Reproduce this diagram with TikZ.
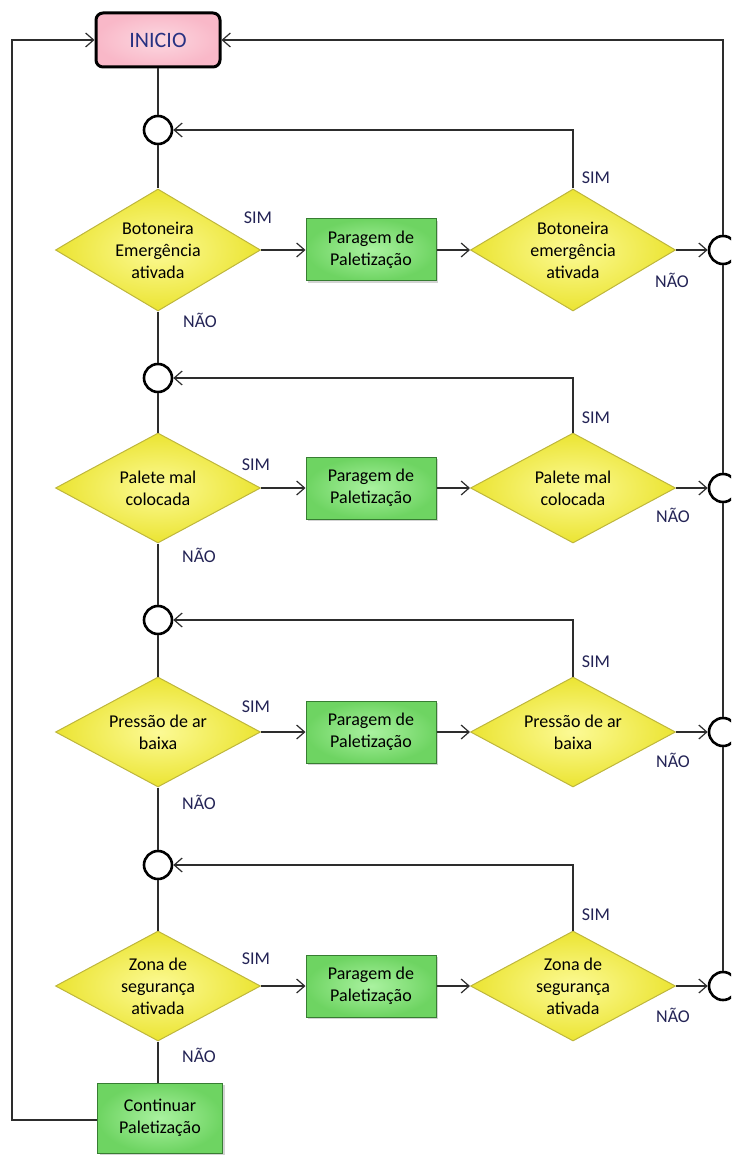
\documentclass[tikz,border=0pt]{standalone}
\usepackage{fontspec}
\setmainfont{Carlito}
\usetikzlibrary{arrows.meta,shapes.geometric,shadows}

\definecolor{wire}{RGB}{45,45,45}
\definecolor{lbltext}{RGB}{35,35,85}
\definecolor{starttext}{RGB}{40,50,130}
\definecolor{decin}{RGB}{252,250,150}
\definecolor{decout}{RGB}{235,228,50}
\definecolor{decedge}{RGB}{190,182,60}
\definecolor{actin}{RGB}{170,242,160}
\definecolor{actout}{RGB}{110,212,98}
\definecolor{actedge}{RGB}{55,125,50}
\definecolor{startfill}{RGB}{249,184,200}

\tikzset{
  flow/.style={draw=wire, line width=1.3pt},
  arr/.style={flow, -{Straight Barb[length=8pt,width=14pt,line width=1.2pt]}},
  decision/.style={diamond, shape aspect=1.9, draw=decedge, line width=1pt,
    shading=radial, inner color=decin, outer color=decout,
    minimum width=205pt, minimum height=110pt, inner sep=0pt, align=center,
    font=\fontsize{18}{22}\selectfont, text=black},
  action/.style={rectangle, draw=actedge, line width=1pt,
    shading=radial, inner color=actin, outer color=actout,
    drop shadow={opacity=0.35, shadow xshift=2pt, shadow yshift=-2pt},
    minimum width=130pt, minimum height=62pt, inner sep=0pt, align=center,
    font=\fontsize{18}{22}\selectfont, text=black},
  junction/.style={circle, draw=black, fill=white, line width=2.6pt,
    minimum size=28pt, inner sep=0pt},
  answer/.style={font=\fontsize{18}{20}\selectfont, text=lbltext, inner sep=0pt},
}

\begin{document}
\begin{tikzpicture}[x=1pt, y=-1pt]
\useasboundingbox (0,0) rectangle (731,1155);
\clip (0,0) rectangle (731,1155);

% start block
\node[rectangle, rounded corners=7pt, draw=black, line width=3pt,
  shading=radial, inner color=startfill!55!white, outer color=startfill,
  minimum width=124pt, minimum height=54pt, inner sep=0pt,
  font=\fontsize{22}{24}\selectfont, text=starttext] (inicio) at (158,40) {INICIO};

% final action
\node[action, minimum width=125pt, minimum height=70pt] (cont) at (160,1118) {Continuar\\Paletização};

% row 1
\node[junction] (c1) at (158,130) {};
\node[decision, minimum height=122pt] (d1) at (158,250) {Botoneira\\Emergência\\ativada};
\node[action] (p1) at (371,250) {Paragem de\\Paletização};
\node[decision, minimum height=122pt] (r1) at (573,250) {Botoneira\\emergência\\ativada};
\node[junction] (k1) at (723,250) {};

% row 2
\node[junction] (c2) at (158,378) {};
\node[decision] (d2) at (158,488) {Palete mal\\colocada};
\node[action] (p2) at (371,488) {Paragem de\\Paletização};
\node[decision] (r2) at (573,488) {Palete mal\\colocada};
\node[junction] (k2) at (723,488) {};

% row 3
\node[junction] (c3) at (158,620) {};
\node[decision] (d3) at (158,732) {Pressão de ar\\baixa};
\node[action] (p3) at (371,732) {Paragem de\\Paletização};
\node[decision] (r3) at (573,732) {Pressão de ar\\baixa};
\node[junction] (k3) at (723,732) {};

% row 4
\node[junction] (c4) at (158,865) {};
\node[decision] (d4) at (158,986) {Zona de\\segurança\\ativada};
\node[action] (p4) at (371,986) {Paragem de\\Paletização};
\node[decision] (r4) at (573,986) {Zona de\\segurança\\ativada};
\node[junction] (k4) at (723,986) {};

% main column
\draw[flow] (inicio.south) -- (c1.north);
\draw[flow] (c1.south) -- (d1.north);
\draw[flow] (d1.south) -- (c2.north);
\draw[flow] (c2.south) -- (d2.north);
\draw[flow] (d2.south) -- (c3.north);
\draw[flow] (c3.south) -- (d3.north);
\draw[flow] (d3.south) -- (c4.north);
\draw[flow] (c4.south) -- (d4.north);
\draw[flow] (d4.south) -- (d4.south |- cont.north);

% return to start
\coordinate (lft) at (12,1120);
\draw[arr] (cont.west |- lft) -- (lft) |- (inicio.west);
\draw[arr] (k1.north) |- (inicio.east);
\draw[flow] (k1.south) -- (k2.north);
\draw[flow] (k2.south) -- (k3.north);
\draw[flow] (k3.south) -- (k4.north);

% branches
\foreach \i in {1,2,3,4}{
  \draw[arr] (d\i.east) -- (p\i.west);
  \draw[arr] (p\i.east) -- (r\i.west);
  \draw[arr] (r\i.east) -- (k\i.west);
  \draw[arr] (r\i.north) |- (c\i.east);
}

% answers
\node[answer] (s1) at (258,218) {SIM};
\node[answer] (s2) at (256,465) {SIM};
\node[answer] (s3) at (256,707) {SIM};
\node[answer] (s4) at (256,959) {SIM};
\node[answer] (t1) at (596,178) {SIM};
\node[answer] (t2) at (596,418) {SIM};
\node[answer] (t3) at (596,662) {SIM};
\node[answer] (t4) at (596,915) {SIM};
\node[answer] (n1) at (200,320) {NÃO};
\node[answer] (n2) at (199,555) {NÃO};
\node[answer] (n3) at (199,802) {NÃO};
\node[answer] (n4) at (199,1055) {NÃO};
\node[answer] (m1) at (672,280) {NÃO};
\node[answer] (m2) at (673,515) {NÃO};
\node[answer] (m3) at (673,760) {NÃO};
\node[answer] (m4) at (673,1015) {NÃO};
\end{tikzpicture}
\end{document}
